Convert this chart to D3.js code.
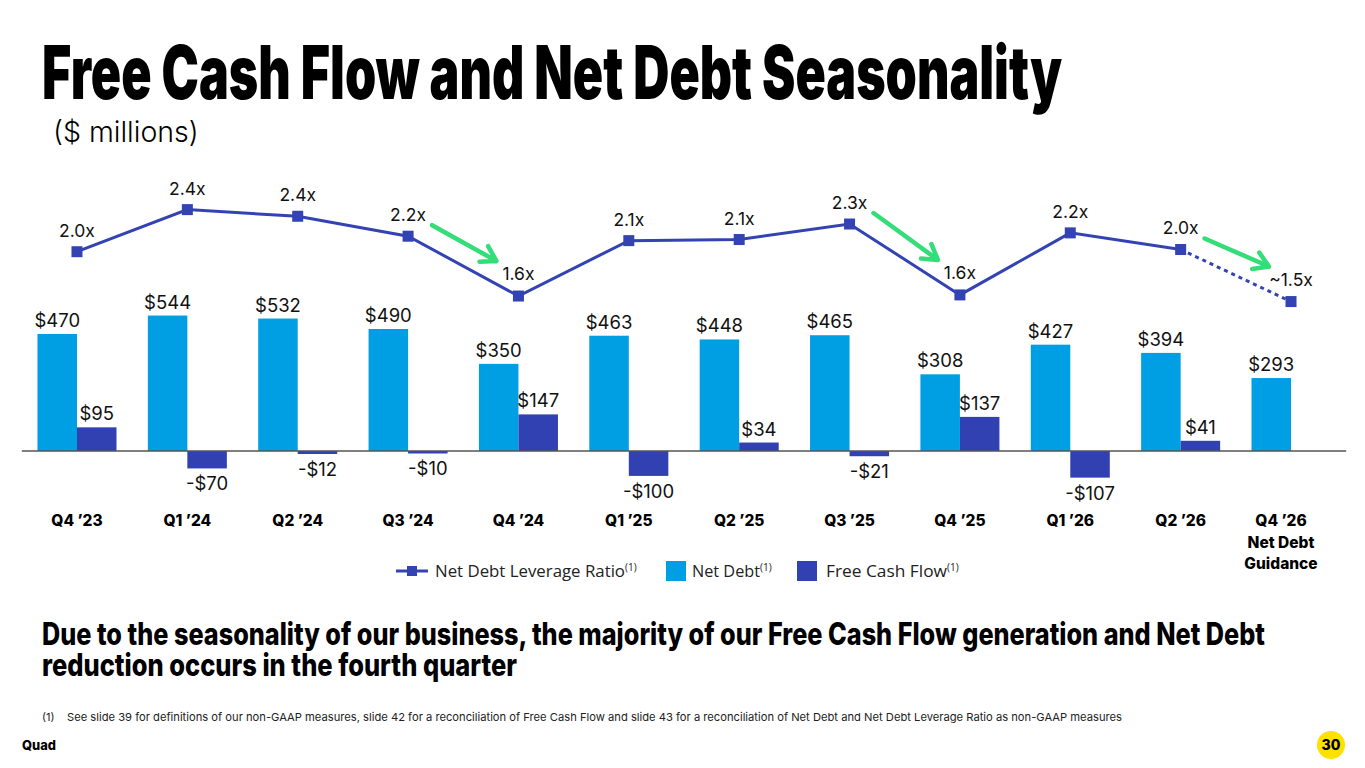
<!DOCTYPE html>
<html>
<head>
<meta charset="utf-8">
<script src="https://cdn.jsdelivr.net/npm/d3@7/dist/d3.min.js"></script>
<style>
  html, body { margin: 0; padding: 0; background: #fff; }
  svg { display: block; }
  text { font-family: Inter, "Open Sans", sans-serif; }
</style>
</head>
<body>
<svg id="chart" width="1365" height="768"></svg>
<script>
// ---------- data ----------
const categories = ["Q4 ’23","Q1 ’24","Q2 ’24","Q3 ’24","Q4 ’24","Q1 ’25","Q2 ’25","Q3 ’25","Q4 ’25","Q1 ’26","Q2 ’26","Q4 ’26"];
const netDebt = [470, 544, 532, 490, 350, 463, 448, 465, 308, 427, 394, 293];
const freeCashFlow = [95, -70, -12, -10, 147, -100, 34, -21, 137, -107, 41, null];
const leverageRatio = [2.00, 2.38, 2.32, 2.14, 1.60, 2.10, 2.11, 2.25, 1.61, 2.17, 2.02, 1.55];
const leverageLabels = ["2.0x","2.4x","2.4x","2.2x","1.6x","2.1x","2.1x","2.3x","1.6x","2.2x","2.0x","~1.5x"];
const arrowPairs = [[3,4],[7,8],[10,11]];
const seriesNames = ["Net Debt Leverage Ratio", "Net Debt", "Free Cash Flow"];

// ---------- styles ----------
const C_ND = "#009FE3", C_FCF = "#3141B1", C_LINE = "#3343B3", C_GREEN = "#33DD77";

const svg = d3.select("#chart");

// ---------- title ----------
svg.append("text").attr("x", 42).attr("y", 99)
  .attr("font-size", 74).attr("font-weight", 900).attr("fill", "#000")
  .attr("textLength", 1020).attr("lengthAdjust", "spacingAndGlyphs")
  .text("Free Cash Flow and Net Debt Seasonality");
svg.append("text").attr("x", 53).attr("y", 142)
  .attr("font-size", 28.5).attr("font-weight", 300).attr("fill", "#000")
  .text("($ millions)");

// ---------- scales ----------
const x = d3.scaleBand().domain(categories).range([21.8, 1346.2]).paddingInner(0.284).paddingOuter(0.142);
const sub = d3.scaleBand().domain(["nd","fcf"]).range([0, x.bandwidth()]);
const y = d3.scaleLinear().domain([-200, 600]).range([500.8, 301.6]);
const yL = d3.scaleLinear().domain([1.5, 2.4]).range([307.1, 207.4]);
const cx = c => x(c) + x.bandwidth() / 2;

// ---------- bars ----------
const g = svg.append("g");
g.selectAll("rect.nd").data(categories).join("rect").attr("class","nd")
  .attr("x", c => x(c) + sub("nd")).attr("width", sub.bandwidth())
  .attr("y", (c,i) => y(netDebt[i])).attr("height", (c,i) => y(0) - y(netDebt[i]))
  .attr("fill", C_ND);
g.selectAll("rect.fcf").data(categories.filter((c,i) => freeCashFlow[i] != null)).join("rect").attr("class","fcf")
  .attr("x", c => x(c) + sub("fcf")).attr("width", sub.bandwidth())
  .attr("y", c => { const v = freeCashFlow[categories.indexOf(c)]; return y(Math.max(0, v)); })
  .attr("height", c => { const v = freeCashFlow[categories.indexOf(c)]; return Math.abs(y(v) - y(0)); })
  .attr("fill", C_FCF);

// baseline
svg.append("line").attr("x1", x.range()[0]).attr("x2", x.range()[1])
  .attr("y1", y(0)).attr("y2", y(0)).attr("stroke", "#555").attr("stroke-width", 1.3);

// bar labels
const fmt = v => (v < 0 ? "-$" : "$") + Math.abs(v);
g.selectAll("text.ndl").data(categories).join("text").attr("class","ndl")
  .attr("x", c => x(c) + sub("nd") + sub.bandwidth()/2)
  .attr("y", (c,i) => y(netDebt[i]) - 7)
  .attr("text-anchor","middle").attr("font-size", 18.5).attr("fill","#111")
  .text((c,i) => fmt(netDebt[i]));
g.selectAll("text.fcfl").data(categories.filter((c,i) => freeCashFlow[i] != null)).join("text").attr("class","fcfl")
  .attr("x", c => x(c) + sub("fcf") + sub.bandwidth()/2)
  .attr("y", c => { const v = freeCashFlow[categories.indexOf(c)]; return v >= 0 ? y(v) - 7 : y(v) + 22; })
  .attr("text-anchor","middle").attr("font-size", 18.5).attr("fill","#111")
  .text(c => fmt(freeCashFlow[categories.indexOf(c)]));

// ---------- leverage line ----------
const pts = categories.map((c,i) => [cx(c), yL(leverageRatio[i])]);
const line = d3.line();
svg.append("path").attr("d", line(pts.slice(0, pts.length - 1)))
  .attr("fill","none").attr("stroke", C_LINE).attr("stroke-width", 3);
svg.append("path").attr("d", line(pts.slice(pts.length - 2)))
  .attr("fill","none").attr("stroke", C_LINE).attr("stroke-width", 3).attr("stroke-dasharray", "4 4");
svg.selectAll("rect.mk").data(pts).join("rect").attr("class","mk")
  .attr("x", d => d[0] - 5.5).attr("y", d => d[1] - 5.5).attr("width", 11).attr("height", 11)
  .attr("fill", C_LINE);
svg.selectAll("text.lv").data(pts).join("text").attr("class","lv")
  .attr("x", d => d[0]).attr("y", (d,i) => d[1] - (i === 4 || i === 8 || i === 11 ? 16 : 15))
  .attr("text-anchor","middle").attr("font-size", 17.5).attr("fill","#111")
  .text((d,i) => leverageLabels[i]);

// ---------- green arrows ----------
arrowPairs.forEach(([a,b]) => {
  const x0 = pts[a][0] + 24, y0 = pts[a][1] - 11;
  const x1 = pts[b][0] - 22, y1 = pts[b][1] - 35;
  const ang = Math.atan2(y1 - y0, x1 - x0);
  const L = 17, spread = 0.55;
  const h1 = [x1 - L*Math.cos(ang - spread), y1 - L*Math.sin(ang - spread)];
  const h2 = [x1 - L*Math.cos(ang + spread), y1 - L*Math.sin(ang + spread)];
  svg.append("path")
    .attr("d", `M${x0},${y0}L${x1},${y1}M${h1[0]},${h1[1]}L${x1},${y1}L${h2[0]},${h2[1]}`)
    .attr("fill","none").attr("stroke", C_GREEN).attr("stroke-width", 4.5)
    .attr("stroke-linecap","round").attr("stroke-linejoin","round");
});

// ---------- category labels ----------
svg.selectAll("text.cat").data(categories).join("text").attr("class","cat")
  .attr("x", (c,i) => cx(c) + (i === categories.length - 1 ? -10 : 0))
  .attr("y", 526).attr("text-anchor","middle")
  .attr("font-size", 15.5).attr("font-weight", 800).attr("fill","#000")
  .text(c => c);
const lastX = cx(categories[categories.length - 1]) - 10;
["Net Debt","Guidance"].forEach((t,k) => {
  svg.append("text").attr("x", lastX).attr("y", 548 + k*21).attr("text-anchor","middle")
    .attr("font-size", 15.5).attr("font-weight", 800).attr("fill","#000").text(t);
});

// ---------- legend ----------
const lg = svg.append("g");
lg.append("line").attr("x1", 396).attr("x2", 428).attr("y1", 571).attr("y2", 571)
  .attr("stroke", C_LINE).attr("stroke-width", 3);
lg.append("rect").attr("x", 407).attr("y", 566).attr("width", 10).attr("height", 10).attr("fill", C_LINE);
lg.append("rect").attr("x", 666).attr("y", 561).attr("width", 20).attr("height", 20).attr("fill", C_ND);
lg.append("rect").attr("x", 797).attr("y", 561).attr("width", 20).attr("height", 20).attr("fill", C_FCF);
[[435, seriesNames[0], 190], [692, seriesNames[1], 68], [826, seriesNames[2], 121]].forEach(([lx, t, w]) => {
  const tx = lg.append("text").attr("x", lx).attr("y", 577).attr("fill", "#222")
    .style("font-family", "'Open Sans', sans-serif");
  tx.append("tspan").attr("font-size", 16.5).attr("textLength", w).attr("lengthAdjust", "spacingAndGlyphs").text(t);
  tx.append("tspan").attr("font-size", 10).attr("dy", -6).text("(1)");
});

// ---------- bottom text ----------
svg.append("text").attr("x", 42).attr("y", 645)
  .attr("font-size", 31).attr("font-weight", 800).attr("fill","#000")
  .attr("textLength", 1223).attr("lengthAdjust", "spacingAndGlyphs")
  .text("Due to the seasonality of our business, the majority of our Free Cash Flow generation and Net Debt");
svg.append("text").attr("x", 42).attr("y", 676)
  .attr("font-size", 31).attr("font-weight", 800).attr("fill","#000")
  .attr("textLength", 475).attr("lengthAdjust", "spacingAndGlyphs")
  .text("reduction occurs in the fourth quarter");

// footnote
svg.append("text").attr("x", 42).attr("y", 721).attr("font-size", 11).attr("fill", "#222").text("(1)");
svg.append("text").attr("x", 67).attr("y", 721).attr("font-size", 11).attr("fill", "#222")
  .attr("textLength", 1055).attr("lengthAdjust", "spacingAndGlyphs")
  .text("See slide 39 for definitions of our non-GAAP measures, slide 42 for a reconciliation of Free Cash Flow and slide 43 for a reconciliation of Net Debt and Net Debt Leverage Ratio as non-GAAP measures");

// footer
svg.append("text").attr("x", 22).attr("y", 750).attr("font-size", 13).attr("font-weight", 800).attr("fill", "#000")
  .attr("textLength", 34).attr("lengthAdjust", "spacingAndGlyphs").text("Quad");
svg.append("circle").attr("cx", 1331).attr("cy", 745).attr("r", 14).attr("fill", "#FFE100");
svg.append("text").attr("x", 1331).attr("y", 750).attr("text-anchor","middle")
  .attr("font-size", 14).attr("font-weight", 800).attr("fill", "#000").text("30");
</script>
</body>
</html>
